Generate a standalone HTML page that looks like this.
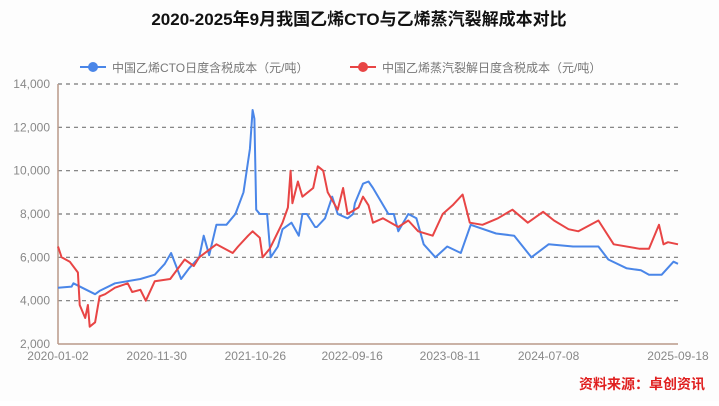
<!DOCTYPE html>
<html><head><meta charset="utf-8">
<style>
body{margin:0;background:#fff;}
svg text{font-family:"Liberation Sans","Noto Sans CJK SC",sans-serif;}
</style></head>
<body>
<svg width="719" height="401" viewBox="0 0 719 401">
<rect width="719" height="401" fill="#fdfdfd"/>
<text x="359" y="25" text-anchor="middle" font-size="17" font-weight="bold" fill="#111">2020-2025年9月我国乙烯CTO与乙烯蒸汽裂解成本对比</text>
<g>
<g>
<line x1="80" y1="67" x2="106" y2="67" stroke="#4a86e8" stroke-width="2"/>
<circle cx="93" cy="67" r="5" fill="#4a86e8"/>
<text x="112" y="72" font-size="12" fill="#777">中国乙烯CTO日度含税成本（元/吨）</text>
</g>
<g>
<line x1="350" y1="67" x2="376" y2="67" stroke="#e84545" stroke-width="2"/>
<circle cx="363" cy="67" r="5" fill="#e84545"/>
<text x="382" y="72" font-size="12" fill="#777">中国乙烯蒸汽裂解日度含税成本（元/吨）</text>
</g>
</g>
<g id="grid"></g>
<g id="plot"></g>
<text x="705" y="389" text-anchor="end" font-size="14" font-weight="bold" fill="#e02020">资料来源：卓创资讯</text>
</svg>
<script>
const yTicks=[2000,4000,6000,8000,10000,12000,14000];
const xTickLabels=["2020-01-02","2020-11-30","2021-10-26","2022-09-16","2023-08-11","2024-07-08","2025-09-18"];
const xTickMonths=[0,10.9,21.8,32.5,43.3,54.2,68.5];
// months since 2020-01 for sampled points
const ctoMonths=[0,1.5,1.7,4.1,4.6,6.3,9.1,10.7,11.8,12.5,13.6,14.5,15.6,16.1,16.7,17.5,18.6,19.6,20.5,21.2,21.5,21.7,21.9,22.3,23.1,23.5,24.3,24.8,25.8,26.6,27.0,27.5,28.4,28.6,29.5,30.3,30.9,32.0,32.6,32.8,33.7,34.3,34.8,36.5,37.1,37.6,38.7,39.6,40.4,41.7,43.0,44.5,45.6,48.4,50.4,52.3,54.2,56.9,59.7,60.8,62.8,64.4,65.3,66.7,68.0,68.5];
const ctoValues=[4600,4650,4800,4300,4450,4800,5000,5200,5700,6200,5000,5500,6000,7000,6100,7500,7500,8000,9000,11000,12800,12400,8200,8000,8000,6000,6500,7300,7600,7000,8000,8000,7400,7400,7800,8800,8000,7800,8000,8500,9400,9500,9200,8000,8000,7200,8000,7800,6600,6000,6500,6200,7500,7100,7000,6000,6600,6500,6500,5900,5500,5400,5200,5200,5800,5700];
const redMonths=[0,0.4,1.3,2.2,2.4,3.0,3.3,3.5,4.1,4.6,5.2,6.3,7.7,8.2,9.1,9.7,10.7,12.4,14.0,15.0,15.6,17.5,19.3,19.9,21.0,21.5,22.3,22.6,23.4,24.8,25.4,25.7,25.9,26.5,27.0,28.2,28.7,29.3,29.8,30.9,31.5,32.0,33.2,33.7,34.3,34.8,35.9,37.6,38.7,39.8,41.4,42.5,43.6,44.7,45.5,46.9,48.6,50.2,51.9,53.6,54.8,56.4,57.5,59.7,61.4,64.2,65.3,66.4,66.9,67.4,68.5];
const redValues=[6500,6000,5800,5300,3800,3200,3800,2800,3000,4200,4300,4600,4800,4400,4500,4000,4900,5000,5900,5600,6000,6600,6200,6500,7000,7200,6900,6000,6400,7600,8300,10000,8500,9500,8800,9200,10200,10000,9000,8200,9200,8000,8300,8800,8400,7600,7800,7400,7700,7200,7000,8000,8400,8900,7600,7500,7800,8200,7600,8100,7700,7300,7200,7700,6600,6400,6400,7500,6600,6700,6600];
const NS='http://www.w3.org/2000/svg';
const x0=58,x1=678,mMax=68.5,yTop=84,yBot=344;
function xs(m){return x0+m*(x1-x0)/mMax;}
function ys(v){return yBot-(v-2000)*(yBot-yTop)/12000;}
const grid=document.getElementById('grid');
yTicks.forEach(v=>{
  const y=ys(v);
  if(v>2000){const l=document.createElementNS(NS,'line');
  l.setAttribute('x1',x0);l.setAttribute('x2',x1);l.setAttribute('y1',y);l.setAttribute('y2',y);
  l.setAttribute('stroke','#777');l.setAttribute('stroke-dasharray','4,4');l.setAttribute('stroke-width','1.2');
  
  
  grid.appendChild(l);}
  const t=document.createElementNS(NS,'text');
  t.setAttribute('x',x0-8);t.setAttribute('y',y+4);t.setAttribute('text-anchor','end');t.setAttribute('font-size','12');t.setAttribute('fill','#888');
  t.textContent=v.toLocaleString('en-US');
  
  
  grid.appendChild(t);
});
const ax=document.createElementNS(NS,'line');
ax.setAttribute('x1',x0);ax.setAttribute('x2',x0);ax.setAttribute('y1',yTop);ax.setAttribute('y2',yBot);
ax.setAttribute('stroke','#b99a8a');ax.setAttribute('stroke-width','1.5');


grid.appendChild(ax);
const bx=document.createElementNS(NS,'line');
bx.setAttribute('x1',x0);bx.setAttribute('x2',x1);bx.setAttribute('y1',yBot);bx.setAttribute('y2',yBot);
bx.setAttribute('stroke','#b99a8a');bx.setAttribute('stroke-width','1.5');


grid.appendChild(bx);
xTickLabels.forEach((s,i)=>{
  const t=document.createElementNS(NS,'text');
  t.setAttribute('x',xs(xTickMonths[i]));t.setAttribute('y',yBot+16);t.setAttribute('text-anchor','middle');t.setAttribute('font-size','12');t.setAttribute('fill','#888');
  t.textContent=s;
  
  
  grid.appendChild(t);
});
const plot=document.getElementById('plot');
function line(ms,vs,color,name){
  const p=document.createElementNS(NS,'polyline');
  p.setAttribute('points',ms.map((m,i)=>xs(m).toFixed(1)+','+ys(vs[i]).toFixed(1)).join(' '));
  p.setAttribute('fill','none');p.setAttribute('stroke',color);p.setAttribute('stroke-width','2');p.setAttribute('stroke-linejoin','round');
  
  
  plot.appendChild(p);
}
line(ctoMonths,ctoValues,'#4a86e8','cto-cost-line');
line(redMonths,redValues,'#e84545','steam-cracking-cost-line');
</script>
</body></html>
